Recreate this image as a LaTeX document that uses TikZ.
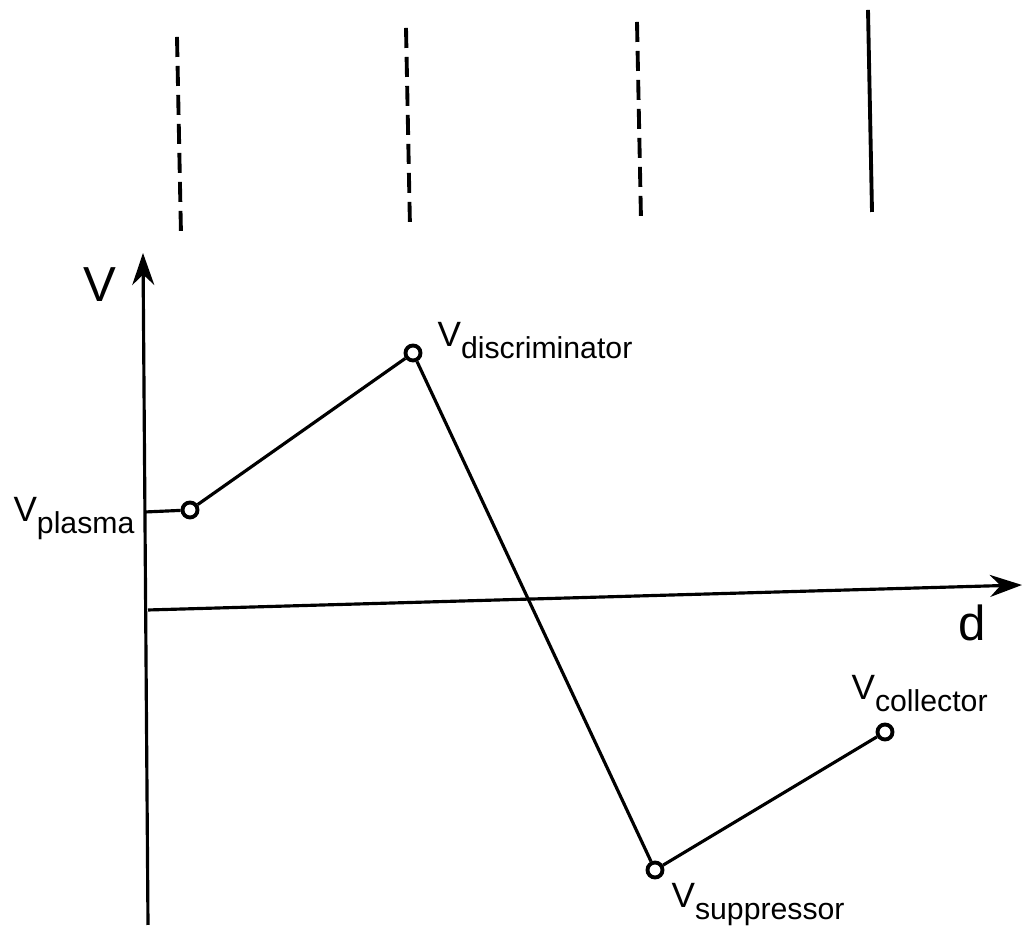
\documentclass[tikz,border=0pt]{standalone}
\usepackage{fontspec}
\setmainfont{Liberation Sans}
\usepackage{tikz}
\usetikzlibrary{arrows.meta}

\newcommand{\Vlab}[1]{V\raisebox{-3.2pt}{\fontsize{8.6}{9}\selectfont #1}}

\tikzset{
  pt/.style={circle, draw, line width=1.1pt, fill=white, inner sep=0pt, minimum size=1.5mm},
  grid/.style={line width=1.1pt, dash pattern=on 2mm off 0.9mm},
}

\begin{document}
\begin{tikzpicture}[line width=0.9pt]
\useasboundingbox (0,0) rectangle (10.28,9.45);

% Grids (dashed) and collector plate (solid)
\draw[grid] (1.77,9.08) -- (1.81,7.10);
\draw[grid] (4.06,9.17) -- (4.10,7.17);
\draw[grid] (6.37,9.23) -- (6.41,7.25);
\draw[line width=1.1pt] (8.68,9.35) -- (8.72,7.33);

% Axes
\coordinate (Vbot) at (1.48,0.20);
\coordinate (Vtop) at (1.43,6.92);
\coordinate (dleft) at (1.48,3.35);
\coordinate (dright) at (10.22,3.60);
\draw[-{Stealth[length=3.2mm,width=2.2mm]}] (Vbot) -- (Vtop);
\draw[-{Stealth[length=3.2mm,width=2.2mm]}] (dleft) -- (dright);
\node[font=\fontsize{14}{16}\selectfont] (Vaxis) at (1.00,6.60) {V};
\node[font=\fontsize{14}{16}\selectfont] (daxis) at (9.72,3.22) {d};

% Potential points
\node[pt] (plasma) at (1.90,4.35) {};
\node[pt] (disc) at (4.13,5.92) {};
\node[pt] (supp) at (6.55,0.75) {};
\node[pt] (coll) at (8.85,2.13) {};
\coordinate (Vplasma) at (1.45,4.33);

% Potential profile
\draw (Vplasma) -- (plasma);
\draw (plasma) -- (disc) -- (supp) -- (coll);

% Labels
\node[anchor=base east, inner sep=0pt] (lplasma) at (1.36,4.23) {\Vlab{plasma}};
\node[anchor=base west, inner sep=0pt] (ldisc) at (4.36,5.98) {\Vlab{discriminator}};
\node[anchor=base west, inner sep=0pt] (lsupp) at (6.70,0.37) {\Vlab{suppressor}};
\node[anchor=base west, inner sep=0pt] (lcoll) at (8.50,2.45) {\Vlab{collector}};

\end{tikzpicture}
\end{document}
